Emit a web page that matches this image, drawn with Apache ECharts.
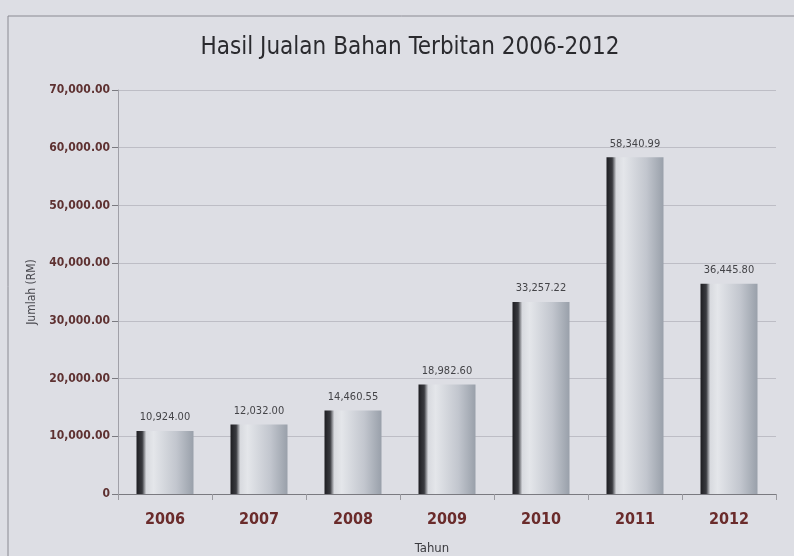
<!DOCTYPE html>
<html><head><meta charset="utf-8">
<script src="https://cdn.jsdelivr.net/npm/echarts@6/dist/echarts.min.js"></script>
<style>html,body{margin:0;padding:0;background:#dddee4;}#c{width:794px;height:556px;}</style>
</head><body><div id="c"></div>
<script>
const categories = ['2006','2007','2008','2009','2010','2011','2012'];
const values = [10924.00, 12032.00, 14460.55, 18982.60, 33257.22, 58340.99, 36445.80];
const yTicks = [0, 10000, 20000, 30000, 40000, 50000, 60000, 70000];
const title = 'Hasil Jualan Bahan Terbitan 2006-2012';
const yName = 'Jumlah (RM)';
const xName = 'Tahun';

const FONT = '"Liberation Sans Narrow","DejaVu Sans Condensed","Liberation Sans",sans-serif';
const fmt = v => v === 0 ? '0' : v.toLocaleString('en-US',{minimumFractionDigits:2,maximumFractionDigits:2});
const chart = echarts.init(document.getElementById('c'));
chart.setOption({
  backgroundColor: '#dddee4',
  animation: false,
  graphic: [{type:'rect', shape:{x:8,y:16,width:800,height:560}, style:{fill:'none', stroke:'#8a8a92', lineWidth:1}}],
  title: {text: title, left: 405, top: 31, textAlign:'center',
    textStyle:{fontFamily:FONT, fontSize:24, fontWeight:'normal', color:'#2a2a2e'}},
  grid: {left:118, right:18, top:90, bottom:62, outerBoundsMode:'none'},
  xAxis: {type:'category', data: categories,
    name: xName, nameLocation:'middle', nameGap:48,
    nameTextStyle:{fontFamily:FONT, fontSize:13, color:'#3a3a3e', padding:[0,0,0,-30]},
    axisLine:{lineStyle:{color:'#7a7a80'}},
    axisTick:{show:true, length:6, lineStyle:{color:'#9a9aa0'}},
    axisLabel:{fontFamily:FONT, fontSize:16, fontWeight:'bold', color:'#6a2b2b', margin:18}},
  yAxis: {type:'value', min:0, max:70000, interval:10000,
    name: yName, nameLocation:'middle', nameGap:72, nameRotate:90,
    nameTextStyle:{fontFamily:FONT, fontSize:12, color:'#4a4a50'},
    axisLine:{show:true, lineStyle:{color:'#a0a0a8'}},
    axisTick:{show:true, length:6, inside:false, lineStyle:{color:'#7a7a80'}},
    splitLine:{lineStyle:{color:'#bdbdc5'}},
    axisLabel:{fontFamily:FONT, fontSize:12, fontWeight:'bold', color:'#5e3131', formatter: fmt, margin:8,
      customValues: yTicks}},
  series: [{type:'bar', data: values, barWidth:57,
    itemStyle:{color: new echarts.graphic.LinearGradient(0,0,1,0,[
      {offset:0, color:'#1e1e22'},{offset:0.1, color:'#3a3b40'},{offset:0.17, color:'#d8dadf'},
      {offset:0.3, color:'#e4e6ea'},{offset:0.7, color:'#c2c6ce'},{offset:1, color:'#99a0aa'}])},
    label:{show:true, position:'top', distance:8, formatter: p => fmt(p.value),
      fontFamily:FONT, fontSize:11, color:'#444448'}}]
});
</script></body></html>
